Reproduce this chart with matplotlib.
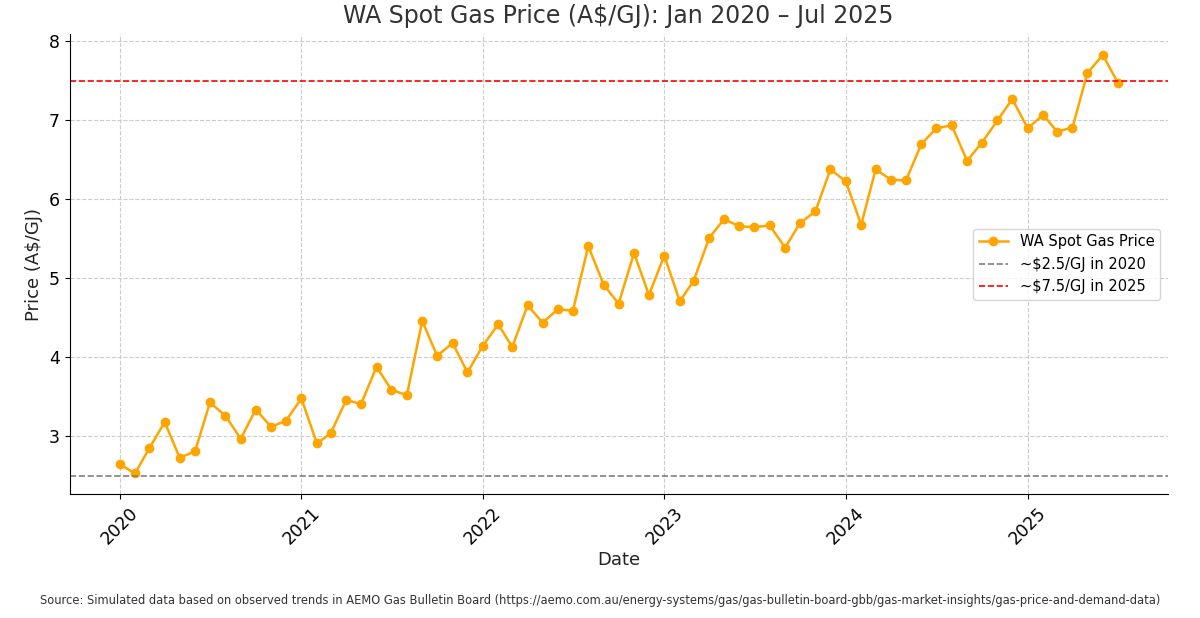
import matplotlib
matplotlib.use("Agg")
import matplotlib.pyplot as plt
import matplotlib.dates as mdates
import pandas as pd

dates = pd.date_range("2020-01-01", "2025-07-01", freq="MS")
prices = [2.65,2.53,2.85,3.18,2.73,2.81,3.43,3.26,2.97,3.34,3.12,3.20,
          3.48,2.91,3.04,3.46,3.41,3.88,3.59,3.52,4.46,4.02,4.18,3.81,
          4.15,4.42,4.13,4.66,4.44,4.61,4.59,5.41,4.92,4.68,5.32,4.79,
          5.29,4.71,4.97,5.51,5.75,5.66,5.65,5.67,5.39,5.70,5.85,6.38,
          6.23,5.68,6.38,6.25,6.24,6.70,6.90,6.94,6.49,6.72,7.00,7.27,
          6.90,7.07,6.86,6.91,7.60,7.83,7.48]
ref_2020 = 2.5
ref_2025 = 7.5

fig = plt.figure(figsize=(12, 6.18), dpi=100)
ax = fig.add_axes([0.058, 0.20, 0.915, 0.745])
ax.plot(dates, prices, color="#FFA500", marker="o", markersize=6, linewidth=1.8, label="WA Spot Gas Price")
ax.axhline(ref_2020, color="gray", linestyle="--", linewidth=1.2, label="~$2.5/GJ in 2020")
ax.axhline(ref_2025, color="red", linestyle="--", linewidth=1.2, label="~$7.5/GJ in 2025")
ax.xaxis.set_major_locator(mdates.YearLocator())
ax.xaxis.set_major_formatter(mdates.DateFormatter("%Y"))
ax.set_yticks([3, 4, 5, 6, 7, 8])
ax.grid(True, linestyle="--", color="#cccccc", linewidth=0.8)
for s in ["top", "right"]:
    ax.spines[s].set_visible(False)
ax.tick_params(labelsize=12.5)
plt.setp(ax.get_xticklabels(), rotation=45)
ax.set_xlabel("Date", fontsize=13, color="#222222", labelpad=2)
ax.set_ylabel("Price (A$/GJ)", fontsize=13, color="#222222")
ax.set_title("WA Spot Gas Price (A$/GJ): Jan 2020 – Jul 2025", fontsize=17, color="#333333", pad=8)
ax.legend(loc="center right", fontsize=10.5)
fig.text(0.5, 0.022, "Source: Simulated data based on observed trends in AEMO Gas Bulletin Board (https://aemo.com.au/energy-systems/gas/gas-bulletin-board-gbb/gas-market-insights/gas-price-and-demand-data)",
         ha="center", fontsize=8.3, color="#333333")
fig.savefig("out.png", dpi=100)
